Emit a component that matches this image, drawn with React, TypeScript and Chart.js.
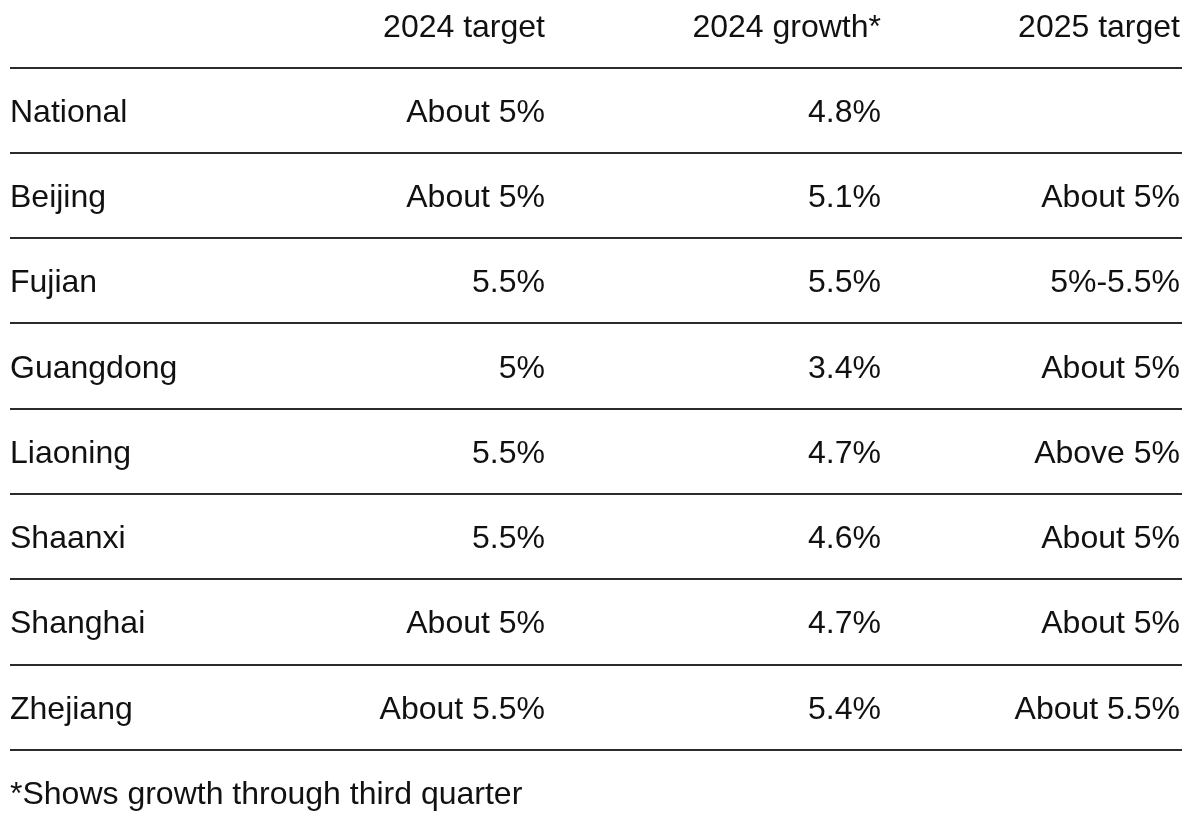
import React, { useEffect, useRef } from "react";
import { Chart, registerables } from "chart.js";

Chart.register(...registerables);

const columnHeaders: string[] = ["2024 target", "2024 growth*", "2025 target"];
const regions: string[] = ["National", "Beijing", "Fujian", "Guangdong", "Liaoning", "Shaanxi", "Shanghai", "Zhejiang"];
const target2024: string[] = ["About 5%", "About 5%", "5.5%", "5%", "5.5%", "5.5%", "About 5%", "About 5.5%"];
const growth2024: string[] = ["4.8%", "5.1%", "5.5%", "3.4%", "4.7%", "4.6%", "4.7%", "5.4%"];
const target2025: string[] = ["", "About 5%", "5%-5.5%", "About 5%", "Above 5%", "About 5%", "About 5%", "About 5.5%"];
const footnote = "*Shows growth through third quarter";

// layout (not data)
const W = 1194;
const H = 816;
const FONT = '32px "Liberation Sans", Arial, sans-serif';
const TEXT_COLOR = "#111111";
const RULE_COLOR = "#2b2b2b";
const LEFT_X = 10;
const RULE_RIGHT = 1182;
const COL_RIGHT = [545, 881, 1180];

const rowKeys: string[] = ["header", ...regions, "footer"];

const tablePlugin = {
  id: "tablePlugin",
  afterDraw(chart: any) {
    const ctx: CanvasRenderingContext2D = chart.ctx;
    const xs = chart.scales.x;
    const ys = chart.scales.y;
    const capHalf = 11.5;
    ctx.save();
    ctx.font = FONT;
    ctx.fillStyle = TEXT_COLOR;
    ctx.textBaseline = "alphabetic";

    const yOf = (i: number) => ys.getPixelForValue(i);

    // rules between rows
    ctx.strokeStyle = RULE_COLOR;
    ctx.lineWidth = 2;
    for (let i = 0; i < rowKeys.length - 1; i++) {
      const y = Math.round((yOf(i) + yOf(i + 1)) / 2);
      ctx.beginPath();
      ctx.moveTo(xs.getPixelForValue(LEFT_X), y);
      ctx.lineTo(xs.getPixelForValue(RULE_RIGHT), y);
      ctx.stroke();
    }

    // header
    ctx.textAlign = "right";
    columnHeaders.forEach((h, c) => {
      ctx.fillText(h, xs.getPixelForValue(COL_RIGHT[c]), yOf(0) + capHalf);
    });

    // body
    regions.forEach((r, i) => {
      const y = yOf(i + 1) + capHalf;
      ctx.textAlign = "left";
      ctx.fillText(r, xs.getPixelForValue(LEFT_X), y);
      ctx.textAlign = "right";
      const cells = [target2024[i], growth2024[i], target2025[i]];
      cells.forEach((v, c) => {
        if (v) ctx.fillText(v, xs.getPixelForValue(COL_RIGHT[c]), y);
      });
    });

    // footnote
    ctx.textAlign = "left";
    ctx.fillText(footnote, xs.getPixelForValue(LEFT_X), yOf(rowKeys.length - 1) + capHalf);
    ctx.restore();
  },
};

export default function App() {
  const ref = useRef<HTMLCanvasElement | null>(null);
  useEffect(() => {
    if (!ref.current) return;
    const chart = new Chart(ref.current, {
      type: "scatter",
      data: {
        datasets: [
          {
            data: rowKeys.map((k, i) => ({ x: LEFT_X, y: i })),
            pointRadius: 0,
            showLine: false,
          },
        ],
      },
      options: {
        animation: false,
        responsive: true,
        maintainAspectRatio: false,
        layout: { padding: { top: 25, bottom: 23.5, left: 0, right: 0 } },
        plugins: { legend: { display: false }, tooltip: { enabled: false } },
        events: [],
        scales: {
          x: { type: "linear", min: 0, max: W, display: false },
          y: { type: "linear", min: 0, max: rowKeys.length - 1, reverse: true, display: false },
        },
      },
      plugins: [tablePlugin],
    });
    return () => chart.destroy();
  }, []);
  return (
    <div style={{ position: "absolute", left: 0, top: 0, width: W, height: H, background: "#ffffff" }}>
      <canvas ref={ref} />
    </div>
  );
}
